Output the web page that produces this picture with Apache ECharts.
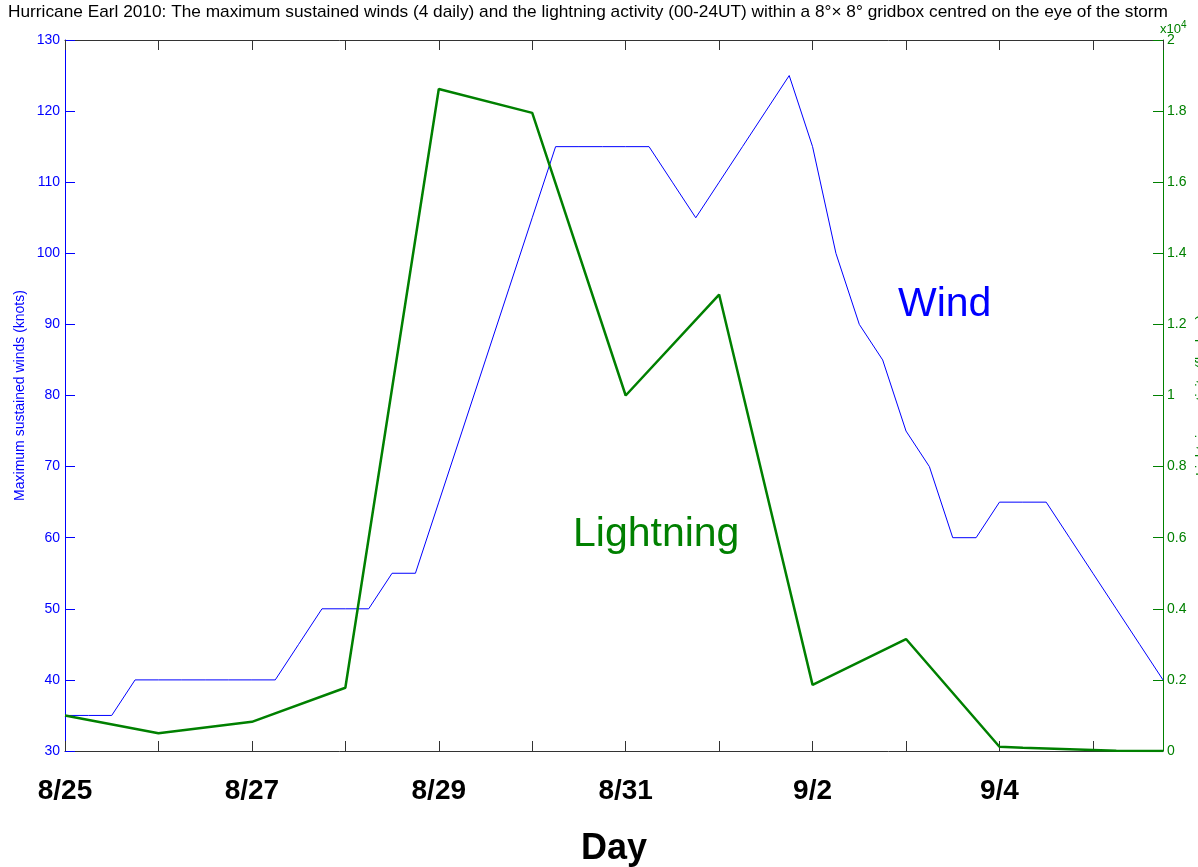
<!DOCTYPE html>
<html>
<head>
<meta charset="utf-8">
<script src="https://cdn.jsdelivr.net/npm/echarts@6/dist/echarts.min.js"></script>
<style>html,body{margin:0;padding:0;background:#fff;}#c{width:1198px;height:867px;}</style>
</head>
<body>
<div id="c"></div>
<script>
// Wind: maximum sustained winds (knots), 4 daily (6-hourly) starting 8/25 00UT
const windValues = [35,35,35,40,40,40,40,40,40,40,45,50,50,50,55,55,65,75,85,95,105,115,115,115,115,115,110,105,110,115,120,125,115,100,90,85,75,70,60,60,65,65,65,60,55,50,45,40];
// Lightning activity (x10^4 flashes): [day offset from 8/25, value]
const lightningDays   = [0, 1, 2, 3, 4, 5, 6, 7, 8, 9, 10, 10.25, 10.75, 11.25, 11.75];
const lightningValues = [0.10, 0.05, 0.082, 0.178, 1.862, 1.795, 1.00, 1.284, 0.186, 0.315, 0.012, 0.009, 0.005, 0.001, 0.0];
// Day tick labels (one per day; every other one shown)
const dayLabels = ['8/25','8/26','8/27','8/28','8/29','8/30','8/31','9/1','9/2','9/3','9/4','9/5'];
const windTicks = [30,40,50,60,70,80,90,100,110,120,130];
const lightTicks = [0,0.2,0.4,0.6,0.8,1,1.2,1.4,1.6,1.8,2];

const ARIAL = "'Liberation Sans',Arial,sans-serif";
const BLUE = '#0000ff', GREEN = '#008000';
const TITLE = 'Hurricane Earl 2010: The maximum sustained winds (4 daily) and the lightning activity (00-24UT) within a 8°× 8° gridbox centred on the eye of the storm';

function textWidth(t, font) {
  const cv = document.createElement('canvas').getContext('2d');
  cv.font = font; return cv.measureText(t).width;
}
const titleScale = 1160 / textWidth(TITLE, "17px 'Liberation Sans'");

const windData = windValues.map((v, i) => [i / 4, v]);
const lightData = lightningDays.map((d, i) => [d, lightningValues[i]]);

const chart = echarts.init(document.getElementById('c'));
chart.setOption({
  animation: false,
  backgroundColor: '#fff',
  grid: { left: 65, right: 35, top: 40, bottom: 116, outerBoundsMode: 'none', containLabel: false },
  xAxis: [{
    type: 'value', min: 0, max: 11.75, interval: 1, position: 'bottom',
    axisLine: { show: true, onZero: false, lineStyle: { color: '#333', width: 1 } },
    axisTick: { show: true, inside: true, length: 10, lineStyle: { color: '#333' } },
    splitLine: { show: false },
    axisLabel: {
      showMaxLabel: false, margin: 26,
      fontFamily: ARIAL, fontWeight: 'bold', fontSize: 28, color: '#000',
      formatter: v => (Math.abs(v - Math.round(v)) < 1e-6 && Math.round(v) % 2 === 0) ? dayLabels[Math.round(v)] : ''
    },
    name: 'Day', nameLocation: 'middle', nameGap: 80,
    nameTextStyle: { fontFamily: ARIAL, fontWeight: 'bold', fontSize: 36, color: '#000' }
  }, {
    type: 'value', min: 0, max: 11.75, interval: 1, position: 'top',
    axisLine: { show: true, onZero: false, lineStyle: { color: '#333', width: 1 } },
    axisTick: { show: true, inside: true, length: 10, lineStyle: { color: '#333' } },
    axisLabel: { show: false }, splitLine: { show: false }
  }],
  yAxis: [{
    type: 'value', min: 30, max: 130, interval: 10, position: 'left',
    axisLine: { show: true, onZero: false, lineStyle: { color: BLUE, width: 1 } },
    axisTick: { show: true, inside: true, length: 10, lineStyle: { color: BLUE, width: 1 } },
    splitLine: { show: false },
    axisLabel: { color: BLUE, fontFamily: ARIAL, fontSize: 14, margin: 5 },
    name: 'Maximum sustained winds (knots)', nameLocation: 'middle', nameGap: 38, nameRotate: 90,
    nameMoveOverlap: false,
    nameTextStyle: { color: BLUE, fontFamily: ARIAL, fontSize: 14 }
  }, {
    type: 'value', min: 0, max: 2, interval: 0.2, position: 'right',
    axisLine: { show: true, onZero: false, lineStyle: { color: GREEN, width: 1 } },
    axisTick: { show: true, inside: true, length: 10, lineStyle: { color: GREEN, width: 1 } },
    splitLine: { show: false },
    axisLabel: { color: GREEN, fontFamily: ARIAL, fontSize: 14, margin: 4,
      formatter: v => String(parseFloat(v.toFixed(1))) },
    name: 'Lightning activity (flashes)', nameLocation: 'middle', nameGap: 32, nameRotate: 90,
    nameMoveOverlap: false,
    nameTextStyle: { color: GREEN, fontFamily: ARIAL, fontSize: 14 }
  }],
  graphic: [
    { type: 'text', x: 8, y: 4, scaleX: titleScale, style: {
        text: TITLE, fill: '#000', font: "17px 'Liberation Sans'" } },
    { type: 'text', x: 1160, y: 20, style: {
        text: '{a|x10}{b|4}',
        rich: { a: { fontFamily: ARIAL, fontSize: 13, fill: GREEN }, b: { fontFamily: ARIAL, fontSize: 10, fill: GREEN, verticalAlign: 'top', padding: [0,0,8,0] } } } },
    { type: 'text', x: 898, y: 284, style: { text: 'Wind', fill: BLUE, fontFamily: ARIAL, fontSize: 41 } },
    { type: 'text', x: 573, y: 514, style: { text: 'Lightning', fill: GREEN, fontFamily: ARIAL, fontSize: 41 } }
  ],
  series: [{
    name: 'Wind', type: 'line', xAxisIndex: 0, yAxisIndex: 0, data: windData,
    showSymbol: false, symbol: 'none', lineStyle: { color: BLUE, width: 1 }, z: 3
  }, {
    name: 'Lightning', type: 'line', xAxisIndex: 0, yAxisIndex: 1, data: lightData,
    showSymbol: false, symbol: 'none', lineStyle: { color: GREEN, width: 2.5 }, z: 4
  }]
});
</script>
</body>
</html>
